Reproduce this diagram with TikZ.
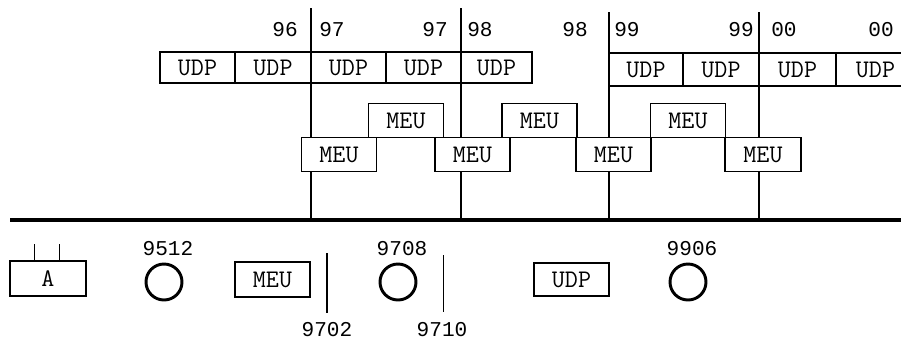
\documentclass[tikz,border=0pt]{standalone}
\usepackage{fontspec}
\newfontfamily\monofont{Liberation Mono}
\newfontfamily\slabfont{Latin Modern Mono}
\newcommand{\cellfont}{\slabfont\fontsize{18}{18}\selectfont}
\newcommand{\yearfont}{\monofont\fontsize{15}{15}\selectfont}
\begin{document}
\begin{tikzpicture}[x=0.25mm, y=-0.25mm,
    cell/.style={draw, fill=white, line width=0.9pt, inner sep=0pt, font=\cellfont,
                 minimum width=18.75mm, minimum height=8.5mm},
    yearlbl/.style={inner sep=0pt, font=\yearfont},
    stamp/.style={draw, circle, line width=2.1pt, minimum size=9mm, inner sep=0pt},
    wire/.style={line width=0.9pt}]

    \useasboundingbox (0,0) rectangle (901,343);

    % bus and the four drops
    \coordinate (W) at (10,220);
    \coordinate (E) at (905,220);
    \draw[line width=3.5pt] (W) -- (E);

    \coordinate (T1) at (311,8);   \coordinate (B1) at (311,220);
    \coordinate (T2) at (461,8);   \coordinate (B2) at (461,220);
    \coordinate (T3) at (609,12);  \coordinate (B3) at (609,220);
    \coordinate (T4) at (759,12);  \coordinate (B4) at (759,220);

    \draw[wire] (T1) -- (B1);
    \draw[wire] (T2) -- (B2);
    \draw[wire] (T3) -- (B3);
    \draw[wire] (T4) -- (B4);

    % years
    \node[yearlbl, anchor=east] (Y1) at (298,30) {96};
    \node[yearlbl, anchor=west] (Y2) at (319,30) {97};
    \node[yearlbl, anchor=east] (Y3) at (448,30) {97};
    \node[yearlbl, anchor=west] (Y4) at (467,30) {98};
    \node[yearlbl, anchor=east] (Y5) at (588,30) {98};
    \node[yearlbl, anchor=west] (Y6) at (614,30) {99};
    \node[yearlbl, anchor=east] (Y7) at (754,30) {99};
    \node[yearlbl, anchor=west] (Y8) at (771,30) {00};
    \node[yearlbl, anchor=east] (Y9) at (894,30) {00};

    % UDP rows
    \node[cell, minimum height=7.75mm] (U1) at (197.5,67.5) {UDP};
    \node[cell, minimum height=7.75mm, minimum width=19mm] (U2) at (273,67.5) {UDP};
    \node[cell, minimum height=7.75mm] (U3) at (348.5,67.5) {UDP};
    \node[cell, minimum height=7.75mm] (U4) at (423.5,67.5) {UDP};
    \node[cell, minimum height=7.75mm, minimum width=17.75mm] (U5) at (496.5,67.5) {UDP};

    \node[cell, minimum height=8.25mm, minimum width=18.5mm] (U6) at (646,69.5) {UDP};
    \node[cell, minimum height=8.25mm, minimum width=19mm] (U7) at (721,69.5) {UDP};
    \node[cell, minimum height=8.25mm, minimum width=19.25mm] (U8) at (797.5,69.5) {UDP};
    \node[cell, minimum height=8.25mm, minimum width=19.75mm] (U9) at (875.5,69.5) {UDP};

    % MEU steps
    \node[cell] (M1) at (339,154.5) {MEU};
    \node[cell] (M2) at (406,120.5) {MEU};
    \node[cell] (M3) at (472.5,154.5) {MEU};
    \node[cell] (M4) at (539.5,120.5) {MEU};
    \node[cell] (M5) at (613.5,154.5) {MEU};
    \node[cell] (M6) at (688,120.5) {MEU};
    \node[cell, minimum width=19mm] (M7) at (763,154.5) {MEU};

    % legend
    \node[cell, minimum width=19mm, minimum height=8.75mm] (A) at (48,278.5) {A};
    \draw[wire] (A.north west) ++(25,0) -- ++(0,-16);
    \draw[wire] (A.north west) ++(50,0) -- ++(0,-16);

    \node[stamp, label={[yearlbl, xshift=1mm, label distance=1.6mm]above:9512}] (S1) at (164,282) {};
    \node[cell, minimum height=8.75mm] (LM) at (272.5,279.5) {MEU};

    \coordinate (P1) at (327,253);
    \coordinate (P2) at (327,313);
    \draw[wire] (P1) -- (P2);
    \node[yearlbl] (N1) at (327,330) {9702};

    \node[stamp, label={[yearlbl, xshift=1mm, label distance=1.6mm]above:9708}] (S2) at (398,282) {};

    \coordinate (Q1) at (443,255);
    \coordinate (Q2) at (443,312);
    \draw[line width=0.6pt] (Q1) -- (Q2);
    \node[yearlbl] (N2) at (442,330) {9710};

    \node[cell, minimum height=8.25mm] (LU) at (571.5,279.5) {UDP};
    \node[stamp, label={[yearlbl, xshift=1mm, label distance=1.6mm]above:9906}] (S3) at (688,282) {};

\end{tikzpicture}
\end{document}
